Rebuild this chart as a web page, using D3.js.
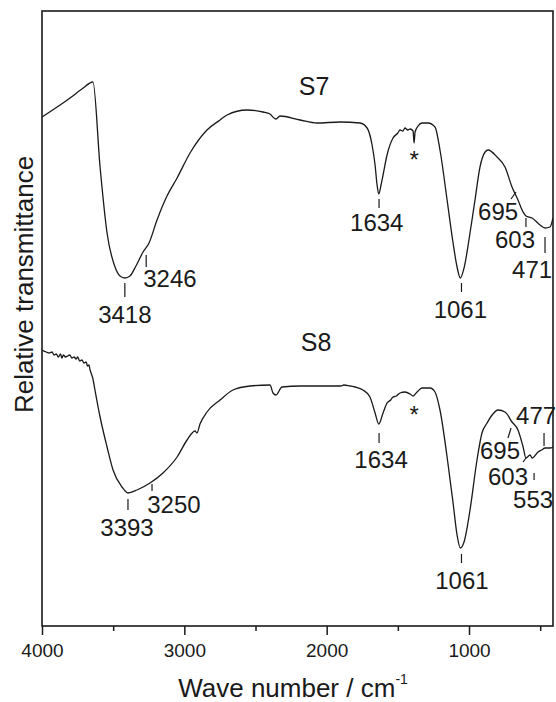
<!DOCTYPE html>
<html>
<head>
<meta charset="utf-8">
<script src="https://cdn.jsdelivr.net/npm/d3@7"></script>
<style>
  body { margin: 0; background: #fff; }
  svg { display: block; }
  text { font-family: "Liberation Sans", Arial, sans-serif; fill: #1a1a1a; }
</style>
</head>
<body>
<svg id="chart"></svg>
<script>
// FTIR spectra (y is relative transmittance, arbitrary units)
const waveS7 = [4000, 3803, 3720, 3642, 3592, 3543, 3487, 3452, 3418, 3382, 3340, 3290, 3248, 3192, 3122, 3051, 2960,
  2841, 2749, 2700, 2560, 2447, 2398, 2370, 2356, 2328, 2187, 2068, 1906, 1766, 1716, 1681, 1660, 1646,
  1634, 1618, 1604, 1576, 1534, 1500, 1485, 1465, 1450, 1430, 1414, 1393, 1386, 1379, 1358, 1330, 1288,
  1239, 1204, 1154, 1112, 1084, 1061, 1035, 993, 958, 923, 887, 866, 803, 747, 698, 656, 620, 600, 557,
  501, 466, 431, 410];
const transS7 = [50.9, 52.8, 53.7, 54.4, 45.9, 39.3, 35.9, 35.0, 34.8, 35.0, 36.0, 37.4, 38.3, 40.6, 43.0, 44.8, 47.3,
  49.6, 50.6, 51.1, 51.6, 51.4, 51.2, 50.8, 50.7, 51.0, 50.6, 50.3, 50.4, 50.3, 49.8, 48.1, 46.1, 44.1,
  43.2, 44.1, 45.1, 47.1, 48.8, 49.3, 49.6, 49.5, 49.8, 49.6, 49.7, 49.5, 48.3, 49.4, 50.0, 50.3, 50.3,
  49.9, 47.6, 42.6, 38.3, 35.9, 34.8, 35.8, 39.3, 42.6, 45.9, 47.4, 47.6, 46.9, 45.9, 43.9, 42.6, 41.4,
  41.0, 40.8, 40.1, 39.8, 39.9, 40.8];

const waveS8 = [4000, 3970, 3950, 3930, 3915, 3900, 3885, 3870, 3860, 3850, 3835, 3820, 3805, 3790, 3775,
  3760, 3750, 3735, 3720, 3705, 3690, 3680, 3670, 3662, 3655, 3642, 3628, 3592, 3543, 3501, 3438, 3396,
  3333, 3241, 3150, 3051, 2981, 2925, 2911, 2890, 2841, 2749, 2658, 2539, 2398, 2377, 2356, 2314, 2187,
  1955, 1900, 1880, 1836, 1800, 1745, 1696, 1660, 1634, 1604, 1576, 1550, 1534, 1510, 1485, 1450, 1414,
  1393, 1365, 1330, 1274, 1239, 1204, 1154, 1112, 1084, 1061, 1035, 993, 944, 909, 873, 838, 796, 747,
  698, 656, 620, 600, 571, 557, 515, 490, 466, 431, 410];
const transS8 = [27.6, 27.4, 27.3, 27.4, 27.1, 27.2, 26.9, 27.2, 26.8, 27.1, 26.9, 27.0, 27.1, 26.8, 26.9,
  26.7, 26.9, 26.5, 26.6, 26.3, 26.4, 26.0, 26.1, 25.6, 25.3, 24.7, 23.6, 20.9, 17.9, 15.6, 13.9, 13.3,
  13.6, 14.3, 15.3, 16.9, 18.6, 19.5, 19.3, 20.2, 21.4, 22.6, 23.6, 24.0, 24.1, 23.3, 23.1, 23.9, 24.0,
  24.0, 24.0, 24.1, 24.0, 23.9, 23.6, 22.9, 21.3, 20.2, 21.3, 22.3, 22.6, 22.9, 23.0, 23.3, 23.4, 23.2,
  23.0, 23.4, 23.8, 23.8, 23.4, 21.6, 16.9, 12.3, 9.1, 7.8, 8.4, 11.6, 16.6, 19.3, 20.3, 21.1, 21.6, 21.4,
  20.4, 19.6, 17.9, 16.8, 17.1, 16.8, 17.4, 17.6, 17.8, 17.8, 17.9];

const majorTicks = [4000, 3000, 2000, 1000];
const minorTicks = [3500, 2500, 1500, 500];

// series names and the [wave, trans] of their label baseline
const seriesNames = ["S7", "S8"];
const seriesNameAt = [[2089, 53.1], [2075, 27.5]];

// band labels: text, tick from [wave, trans] to [wave, trans], label baseline [wave, trans]
const bandsS7 = [
  { text: "3418", tick: [[3418, 34.3], [3418, 32.9]], at: [3418, 30.3] },
  { text: "3246", tick: [[3268, 37.1], [3268, 35.9]], at: [3101, 33.9] },
  { text: "1634", tick: [[1632, 42.7], [1632, 41.8]], at: [1648, 39.5] },
  { text: "1061", tick: [[1053, 34.3], [1053, 33.4]], at: [1061, 30.8] },
  { text: "695", tick: [[705, 42.7], [670, 43.4]], at: [796, 40.6] },
  { text: "603", tick: [[600, 40.8], [600, 39.9]], at: [677, 37.8] },
  { text: "471", tick: [[466, 38.9], [466, 37.3]], at: [557, 34.8] }
];
const bandsS8 = [
  { text: "3393", tick: [[3396, 12.7], [3396, 11.6]], at: [3403, 9.0] },
  { text: "3250", tick: [[3227, 14.2], [3227, 13.5]], at: [3073, 11.3] },
  { text: "1634", tick: [[1632, 19.3], [1632, 18.3]], at: [1618, 15.8] },
  { text: "1061", tick: [[1053, 7.2], [1053, 6.3]], at: [1050, 3.7] },
  { text: "695", tick: [[726, 18.8], [705, 19.8]], at: [782, 16.7] },
  { text: "603", tick: [[620, 16.4], [600, 16.8]], at: [726, 14.1] },
  { text: "553", tick: [[543, 15.3], [543, 14.6]], at: [550, 11.8] },
  { text: "477", tick: [[473, 19.3], [473, 18.0]], at: [529, 20.2] }
];
// artefact marks (*)
const starAt = [[1386, 45.8], [1386, 20.3]];

const width = 556, height = 702;
const margin = { top: 11, right: 3, bottom: 76, left: 42 };

const svg = d3.select("#chart").attr("width", width).attr("height", height);

const x = d3.scaleLinear().domain([4000, 410]).range([margin.left, width - margin.right]);
const y = d3.scaleLinear().domain([0, 61.5]).range([height - margin.bottom, margin.top]);

svg.append("defs").append("clipPath").attr("id", "plot")
  .append("rect")
  .attr("x", margin.left).attr("y", margin.top)
  .attr("width", width - margin.left - margin.right)
  .attr("height", height - margin.top - margin.bottom);

// spectra
const line = d3.line()
  .x(d => x(d[0]))
  .y(d => y(d[1]))
  .curve(d3.curveMonotoneX);

[[waveS7, transS7], [waveS8, transS8]].forEach(([w, t]) => {
  svg.append("path")
    .datum(w.map((v, i) => [v, t[i]]))
    .attr("clip-path", "url(#plot)")
    .attr("fill", "none")
    .attr("stroke", "#1a1a1a")
    .attr("stroke-width", 1.3)
    .attr("stroke-linejoin", "round")
    .attr("d", line);
});

// x axis, major and minor ticks
const axisY = height - margin.bottom;
const major = svg.append("g")
  .attr("transform", `translate(0,${axisY})`)
  .call(d3.axisBottom(x).tickValues(majorTicks).tickSize(9).tickPadding(9).tickFormat(d3.format("d")));
major.selectAll("text").attr("font-size", 19).attr("fill", "#1a1a1a");

svg.append("g")
  .attr("transform", `translate(0,${axisY})`)
  .call(d3.axisBottom(x).tickValues(minorTicks.filter(v => v >= 410)).tickSize(5).tickFormat(""));

svg.selectAll(".domain").remove();
svg.selectAll(".tick line").attr("stroke", "#1a1a1a").attr("stroke-width", 1.5);

// frame
svg.append("rect")
  .attr("x", margin.left).attr("y", margin.top)
  .attr("width", width - margin.left - margin.right)
  .attr("height", height - margin.top - margin.bottom)
  .attr("fill", "none")
  .attr("stroke", "#1a1a1a")
  .attr("stroke-width", 1.6);

// band annotations
const ann = svg.append("g");
[bandsS7, bandsS8].forEach(bands => {
  ann.selectAll(null)
    .data(bands)
    .join("line")
    .attr("x1", d => x(d.tick[0][0])).attr("y1", d => y(d.tick[0][1]))
    .attr("x2", d => x(d.tick[1][0])).attr("y2", d => y(d.tick[1][1]))
    .attr("stroke", "#1a1a1a")
    .attr("stroke-width", 1.2);

  ann.selectAll(null)
    .data(bands)
    .join("text")
    .attr("x", d => x(d.at[0]))
    .attr("y", d => y(d.at[1]))
    .attr("text-anchor", "middle")
    .attr("font-size", 24)
    .text(d => d.text);
});

ann.selectAll(null)
  .data(starAt)
  .join("text")
  .attr("x", d => x(d[0]))
  .attr("y", d => y(d[1]))
  .attr("text-anchor", "middle")
  .attr("font-size", 24)
  .text("*");

ann.selectAll(null)
  .data(seriesNames)
  .join("text")
  .attr("x", (d, i) => x(seriesNameAt[i][0]))
  .attr("y", (d, i) => y(seriesNameAt[i][1]))
  .attr("text-anchor", "middle")
  .attr("font-size", 25)
  .text(d => d);

// axis titles
const xTitle = svg.append("text")
  .attr("x", 293)
  .attr("y", 697)
  .attr("text-anchor", "middle")
  .attr("font-size", 26);
xTitle.append("tspan").text("Wave number / cm");
xTitle.append("tspan").attr("dy", -13).attr("font-size", 14).text("-1");

svg.append("text")
  .attr("transform", `translate(33,${(margin.top + axisY) / 2 - 34}) rotate(-90)`)
  .attr("text-anchor", "middle")
  .attr("font-size", 26)
  .text("Relative transmittance");
</script>
</body>
</html>
